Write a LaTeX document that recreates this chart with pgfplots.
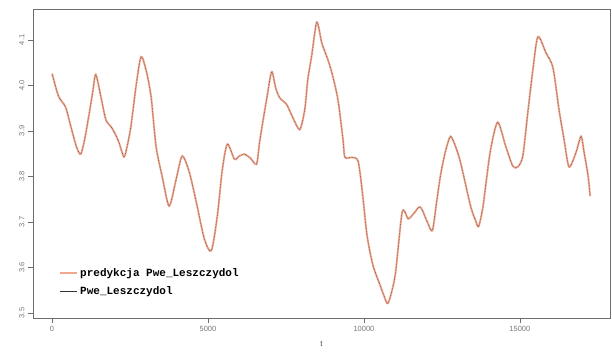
\documentclass[border=0pt]{standalone}
\usepackage{fontspec}
\setmainfont{Liberation Sans}
\newfontfamily\legfont{Liberation Mono}
\usepackage{pgfplots}
\pgfplotsset{compat=1.18}
\usepackage{pgfplotstable}
\definecolor{predcol}{RGB}{240,150,120}
\definecolor{framecol}{RGB}{110,110,110}
\definecolor{tickcol}{RGB}{120,120,120}
\pgfplotstableread{
t v
0 4.026
209 3.976
435 3.952
628 3.903
789 3.864
918 3.849
1047 3.882
1176 3.932
1305 3.986
1402 4.024
1563 3.976
1724 3.925
1885 3.910
2014 3.895
2143 3.875
2304 3.843
2400 3.864
2529 3.910
2690 3.997
2852 4.063
3013 4.034
3174 3.976
3335 3.866
3528 3.801
3754 3.735
3979 3.794
4173 3.845
4398 3.810
4624 3.744
4882 3.663
5107 3.637
5300 3.714
5461 3.816
5622 3.871
5848 3.838
6009 3.845
6170 3.849
6363 3.840
6557 3.827
6653 3.875
6782 3.930
6879 3.969
7040 4.030
7169 3.995
7298 3.973
7523 3.958
7716 3.930
7942 3.903
8103 3.947
8200 4.013
8328 4.067
8489 4.139
8650 4.093
8811 4.063
8972 4.028
9166 3.969
9327 3.882
9391 3.842
9617 3.842
9810 3.834
9939 3.772
10100 3.670
10293 3.604
10519 3.561
10648 3.537
10777 3.522
11002 3.583
11228 3.722
11421 3.707
11615 3.720
11808 3.733
12033 3.700
12194 3.681
12323 3.740
12452 3.801
12613 3.855
12775 3.888
12936 3.866
13097 3.831
13419 3.735
13580 3.703
13677 3.690
13806 3.729
13902 3.779
14063 3.860
14289 3.919
14547 3.866
14772 3.823
14933 3.821
15094 3.845
15255 3.941
15416 4.034
15578 4.107
15835 4.072
16061 4.039
16254 3.947
16415 3.882
16576 3.821
16801 3.853
16962 3.888
17059 3.853
17188 3.801
17252 3.757
}\data
\begin{document}
\begin{tikzpicture}
\useasboundingbox (-33pt,-34pt) rectangle (579pt,318pt);
\begin{axis}[
  at={(0,0)}, anchor=south west,
  scale only axis,
  width=577pt, height=309pt,
  xmin=-611, xmax=17890,
  ymin=3.489, ymax=4.168,
  xtick={0,5000,10000,15000},
  ytick={3.5,3.6,3.7,3.8,3.9,4.0,4.1},
  yticklabels={3.5,3.6,3.7,3.8,3.9,4.0,4.1},
  scaled x ticks=false,
  xticklabel style={/pgf/number format/.cd, 1000 sep={}},
  /pgf/number format/assume math mode=true,
  tick align=outside,
  xtick pos=bottom, ytick pos=left,
  major tick length=5pt,
  tick style={framecol, line width=0.6pt},
  axis line style={framecol, line width=0.8pt},
  ticklabel style={font=\fontsize{7.5}{9}\selectfont, text=tickcol},
  yticklabel style={rotate=90, anchor=south},
  xlabel={t},
  xlabel style={font=\fontsize{8}{9}\selectfont, text=black!70, yshift=-3pt},
  legend style={draw=none, fill=none, at={(0.04,0.175)}, anchor=north west,
    font=\legfont\bfseries\fontsize{11}{13}\selectfont, row sep=5pt},
  legend cell align=left,
]
\addplot[predcol, line width=1.9pt, opacity=0.85, smooth, tension=0.45] table[x=t, y=v] {\data};
\addlegendentry{predykcja Pwe\_Leszczydol}
\addplot[black!80, line width=0.5pt, densely dotted, smooth, tension=0.45, legend image post style={solid, line width=0.8pt}] table[x=t, y=v] {\data};
\addlegendentry{Pwe\_Leszczydol}
\end{axis}
\end{tikzpicture}
\end{document}
